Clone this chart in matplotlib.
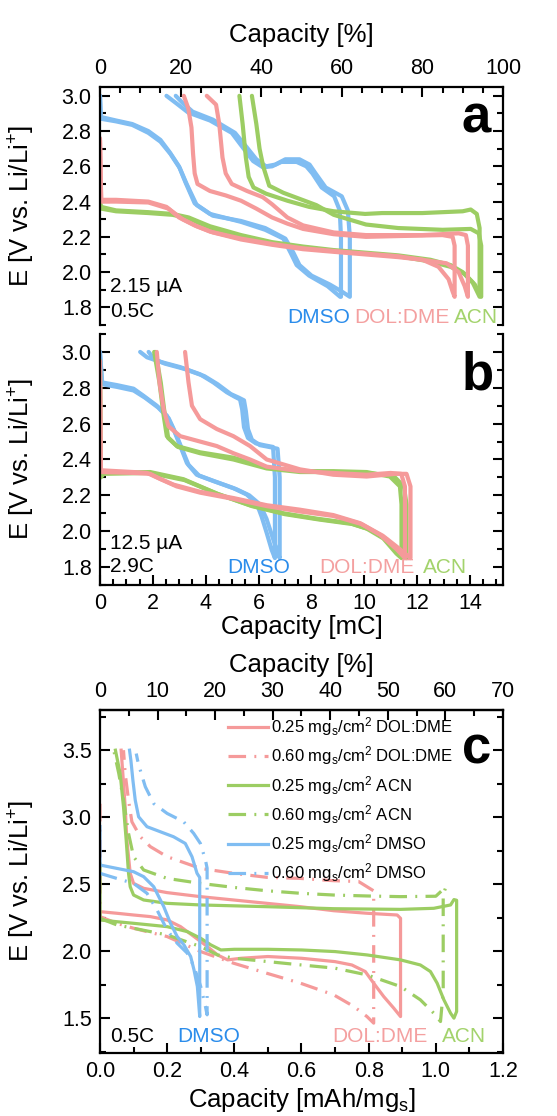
import matplotlib
matplotlib.use("Agg")
import matplotlib.pyplot as plt
from matplotlib.ticker import MultipleLocator, FixedLocator, FormatStrFormatter

plt.rcParams['font.family'] = ['Liberation Sans', 'DejaVu Sans']
plt.rcParams['mathtext.fontset'] = 'custom'
plt.rcParams['mathtext.rm'] = 'Liberation Sans'
plt.rcParams['mathtext.it'] = 'Liberation Sans:italic'

PINK = '#F59A9A'
GREEN = '#9CCD63'
BLUE = '#80BDF2'
T_PINK = '#F4A0A0'
T_GREEN = '#A3D36C'
T_BLUE = '#2A8CEB'

# ---------------- panel a (capacity in %) ----------------
A_DMSO1_Q = [0, 0.2, 4, 8, 12, 15, 17.3, 19.6, 21.2, 23.5, 27.3, 35, 41, 45.5, 47.3, 48.8, 51.9, 56.5, 59.6,
             59.8, 59.8, 59.5, 58.1, 55, 52.7, 51.2, 48.8, 45, 42.7, 40.4, 38, 35, 32.7, 27.3, 21.9, 18.8, 16.5]
A_DMSO1_E = [3.0, 2.88, 2.86, 2.84, 2.80, 2.75, 2.68, 2.60, 2.51, 2.39, 2.33, 2.285, 2.24, 2.19, 2.11, 2.04, 1.98, 1.92, 1.86,
             1.86, 2.20, 2.35, 2.43, 2.48, 2.56, 2.60, 2.625, 2.625, 2.60, 2.595, 2.63, 2.72, 2.79, 2.86, 2.905, 2.96, 3.0]
A_DMSO2_Q = [0, 0.2, 4, 8, 12, 15, 17.5, 19.8, 21.5, 24, 28, 35, 41, 46, 48, 49.5, 52.5, 57, 60, 62,
             62, 62, 61.5, 60, 56, 53.5, 52, 49.5, 46, 43.5, 41.2, 38.8, 36, 33.5, 28, 23, 20.5, 18.8]
A_DMSO2_E = [3.0, 2.87, 2.855, 2.835, 2.79, 2.74, 2.67, 2.59, 2.50, 2.38, 2.32, 2.29, 2.25, 2.19, 2.11, 2.04, 1.98, 1.93, 1.89, 1.86,
             1.86, 2.20, 2.35, 2.43, 2.48, 2.56, 2.61, 2.64, 2.64, 2.61, 2.60, 2.64, 2.72, 2.79, 2.865, 2.91, 2.96, 3.0]

A_DOL1_Q = [0, 0.3, 4, 12, 16.5, 19.6, 23.5, 27.3, 35, 42.7, 50.4, 58, 66, 74, 80, 84, 86.5, 87.5, 88,
            88, 88, 87.5, 85, 75, 66, 58, 50.4, 46.5, 42.7, 38.8, 35, 31.2, 27.3, 24.2, 23.5, 23.1, 22.7, 21.9, 20.8]
A_DOL1_E = [2.76, 2.41, 2.41, 2.40, 2.37, 2.31, 2.265, 2.23, 2.19, 2.16, 2.135, 2.12, 2.105, 2.09, 2.07, 2.03, 1.96, 1.89, 1.86,
            1.86, 2.15, 2.20, 2.21, 2.205, 2.20, 2.215, 2.245, 2.275, 2.31, 2.36, 2.405, 2.435, 2.46, 2.50, 2.56, 2.67, 2.82, 2.93, 3.0]
A_DOL2_Q = [0, 0.3, 4, 12, 17, 20.5, 24, 28, 35, 42.7, 50.4, 58, 66, 74, 80, 86, 89, 90.5, 91.3,
            91.3, 91.3, 90.8, 89, 80, 66, 58, 50.4, 46.5, 42.7, 40.4, 36.5, 32.7, 31.2, 30.4, 29.6, 28.8, 26.5]
A_DOL2_E = [2.75, 2.40, 2.40, 2.395, 2.36, 2.30, 2.26, 2.225, 2.185, 2.155, 2.13, 2.115, 2.10, 2.085, 2.07, 2.05, 2.00, 1.92, 1.86,
            1.86, 2.15, 2.21, 2.22, 2.21, 2.21, 2.225, 2.265, 2.31, 2.385, 2.425, 2.46, 2.50, 2.56, 2.65, 2.84, 2.95, 3.0]

A_ACN1_Q = [0, 0.3, 4, 12, 18, 22, 27.3, 35, 42.7, 50.4, 58, 66, 74, 82, 87, 90, 92.5, 94.2,
            94.2, 94.2, 93.5, 92, 90, 80, 70, 65.8, 58, 51.9, 46.5, 41.2, 38.1, 36.9, 36.2, 35.4, 34.6]
A_ACN1_E = [2.40, 2.37, 2.35, 2.34, 2.33, 2.31, 2.26, 2.21, 2.17, 2.145, 2.125, 2.11, 2.095, 2.07, 2.04, 2.00, 1.94, 1.86,
            1.86, 2.25, 2.33, 2.355, 2.345, 2.335, 2.335, 2.33, 2.345, 2.37, 2.405, 2.445, 2.48, 2.54, 2.65, 2.84, 3.0]
A_ACN2_Q = [0, 0.3, 4, 12, 18, 22, 27.3, 35, 42.7, 50.4, 58, 66, 74, 82, 87, 90.5, 93, 94.6,
            94.6, 94.6, 94, 92, 85, 74, 66, 58, 53.7, 45.5, 42, 40.5, 39.6, 38.8, 37.7]
A_ACN2_E = [2.38, 2.36, 2.345, 2.335, 2.325, 2.305, 2.25, 2.205, 2.165, 2.14, 2.12, 2.105, 2.09, 2.06, 2.03, 1.99, 1.93, 1.86,
            1.86, 2.15, 2.22, 2.245, 2.24, 2.25, 2.27, 2.325, 2.38, 2.45, 2.49, 2.60, 2.70, 2.84, 3.0]

# ---------------- panel b (capacity in mC) ----------------
B_DMSO1_Q = [0, 0.08, 0.64, 1.27, 1.65, 2.15, 2.53, 2.78, 3.04, 3.29, 3.66, 4.29, 5.05, 5.55, 5.93, 6.12, 6.31, 6.5, 6.62,
             6.62, 6.62, 6.55, 6.2, 5.9, 5.6, 5.45, 5.38, 5.3, 5.1, 4.8, 4.29, 3.79, 3.04, 2.28, 1.78, 1.52]
B_DMSO1_E = [3.0, 2.83, 2.815, 2.795, 2.755, 2.70, 2.645, 2.57, 2.475, 2.38, 2.315, 2.28, 2.24, 2.205, 2.155, 2.08, 1.99, 1.895, 1.85,
             1.85, 2.30, 2.47, 2.48, 2.49, 2.52, 2.58, 2.68, 2.735, 2.75, 2.775, 2.83, 2.875, 2.915, 2.945, 2.97, 3.0]
B_DMSO2_Q = [0, 0.08, 0.64, 1.27, 1.7, 2.2, 2.6, 2.85, 3.1, 3.35, 3.75, 4.4, 5.15, 5.65, 6.05, 6.3, 6.5, 6.7, 6.8,
             6.8, 6.8, 6.72, 6.4, 6.05, 5.75, 5.6, 5.52, 5.45, 5.25, 4.95, 4.45, 3.95, 3.2, 2.45, 2.05, 1.84]
B_DMSO2_E = [3.0, 2.82, 2.805, 2.785, 2.745, 2.69, 2.63, 2.55, 2.46, 2.37, 2.31, 2.275, 2.235, 2.20, 2.15, 2.07, 1.98, 1.89, 1.85,
             1.85, 2.30, 2.46, 2.47, 2.48, 2.51, 2.57, 2.67, 2.73, 2.745, 2.765, 2.82, 2.865, 2.905, 2.935, 2.96, 3.0]

B_DOL1_Q = [0, 0.03, 1.27, 1.78, 2.15, 2.78, 3.79, 5.05, 6.31, 7.57, 8.83, 9.84, 10.6, 11.22, 11.54,
            11.54, 11.54, 11.4, 11.0, 10.09, 8.83, 7.57, 6.31, 5.68, 5.05, 4.42, 3.79, 3.04, 2.59, 2.41, 2.25, 2.15]
B_DOL1_E = [2.95, 2.34, 2.33, 2.325, 2.30, 2.26, 2.22, 2.185, 2.145, 2.12, 2.09, 2.045, 1.98, 1.90, 1.85,
            1.85, 2.25, 2.32, 2.325, 2.315, 2.325, 2.335, 2.36, 2.40, 2.435, 2.475, 2.50, 2.53, 2.585, 2.68, 2.83, 3.0]
B_DOL2_Q = [0, 0.03, 1.27, 1.9, 2.3, 2.9, 3.79, 5.05, 6.31, 7.57, 8.83, 9.9, 10.7, 11.35, 11.75,
            11.75, 11.75, 11.6, 11.2, 10.09, 8.83, 7.57, 6.31, 5.68, 5.05, 4.42, 3.79, 3.48, 3.35, 3.22]
B_DOL2_E = [2.90, 2.33, 2.325, 2.32, 2.29, 2.25, 2.215, 2.18, 2.14, 2.11, 2.085, 2.04, 1.975, 1.90, 1.85,
            1.85, 2.25, 2.32, 2.32, 2.305, 2.315, 2.345, 2.40, 2.475, 2.53, 2.57, 2.625, 2.70, 2.83, 3.0]

B_ACN1_Q = [0, 0.03, 0.14, 1.9, 3.16, 4.42, 5.68, 6.94, 8.2, 9.46, 10.09, 10.72, 11.22, 11.41,
            11.41, 11.41, 11.35, 10.97, 10.09, 8.83, 7.57, 6.31, 5.05, 3.79, 2.91, 2.53, 2.41, 2.25, 2.05]
B_ACN1_E = [2.95, 2.31, 2.325, 2.33, 2.29, 2.21, 2.145, 2.10, 2.07, 2.045, 2.015, 1.96, 1.875, 1.85,
            1.85, 2.15, 2.25, 2.305, 2.33, 2.335, 2.335, 2.355, 2.41, 2.44, 2.475, 2.53, 2.645, 2.83, 3.0]
B_ACN2_Q = [0, 0.03, 0.14, 1.9, 3.2, 4.5, 5.75, 7.0, 8.3, 9.55, 10.2, 10.85, 11.4, 11.6,
            11.6, 11.6, 11.5, 11.1, 10.09, 8.83, 7.57, 6.31, 5.05, 3.79, 2.95, 2.58, 2.46, 2.3, 2.1]
B_ACN2_E = [2.90, 2.30, 2.32, 2.325, 2.285, 2.205, 2.14, 2.095, 2.065, 2.04, 2.01, 1.955, 1.87, 1.85,
            1.85, 2.15, 2.25, 2.31, 2.325, 2.33, 2.33, 2.35, 2.40, 2.435, 2.47, 2.52, 2.64, 2.83, 3.0]

# ---------------- panel c (capacity in mAh/mg_S) ----------------
C_DOL25_Q = [0, 0.05, 0.10, 0.15, 0.20, 0.24, 0.28, 0.32, 0.35, 0.38, 0.42, 0.50, 0.60, 0.70, 0.75, 0.79, 0.815, 0.845, 0.875, 0.895,
             0.895, 0.895, 0.885, 0.795, 0.696, 0.597, 0.497, 0.398, 0.299, 0.20, 0.13, 0.10, 0.09, 0.08, 0.075, 0.068, 0.063]
C_DOL25_E = [2.295, 2.283, 2.27, 2.258, 2.233, 2.183, 2.109, 2.034, 1.972, 1.935, 1.947, 1.96, 1.947, 1.922, 1.897, 1.848, 1.761, 1.661, 1.574, 1.512,
             1.512, 2.245, 2.27, 2.283, 2.302, 2.332, 2.357, 2.382, 2.407, 2.437, 2.469, 2.506, 2.581, 2.83, 3.078, 3.326, 3.5]
C_DOL60_Q = [0, 0, 0.05, 0.10, 0.20, 0.30, 0.398, 0.497, 0.597, 0.696, 0.756, 0.795, 0.815,
             0.815, 0.815, 0.77, 0.696, 0.597, 0.497, 0.398, 0.299, 0.20, 0.15, 0.12, 0.095, 0.085, 0.075, 0.07]
C_DOL60_E = [3.10, 2.258, 2.208, 2.171, 2.109, 1.997, 1.91, 1.835, 1.761, 1.674, 1.587, 1.512, 1.463,
             1.463, 2.45, 2.52, 2.526, 2.543, 2.551, 2.581, 2.618, 2.705, 2.78, 2.854, 2.966, 3.127, 3.326, 3.5]
C_ACN25_Q = [0, 0, 0.05, 0.10, 0.20, 0.26, 0.30, 0.33, 0.36, 0.40, 0.50, 0.60, 0.70, 0.795, 0.895, 0.954, 0.984, 1.004, 1.024, 1.044, 1.054, 1.062,
             1.062, 1.054, 1.044, 0.994, 0.895, 0.696, 0.497, 0.299, 0.20, 0.13, 0.10, 0.09, 0.085, 0.078, 0.07, 0.06, 0.046]
C_ACN25_E = [2.65, 2.233, 2.22, 2.208, 2.183, 2.146, 2.096, 2.047, 2.009, 2.014, 2.014, 2.009, 1.997, 1.972, 1.935, 1.897, 1.848, 1.761, 1.637, 1.537, 1.50, 1.55,
             2.38, 2.385, 2.345, 2.32, 2.312, 2.317, 2.332, 2.345, 2.357, 2.382, 2.419, 2.481, 2.581, 2.83, 3.078, 3.326, 3.5]
C_ACN60_Q = [0, 0.05, 0.10, 0.20, 0.30, 0.35, 0.40, 0.50, 0.60, 0.70, 0.795, 0.895, 0.954, 0.994, 1.014,
             1.022, 1.022, 1.03, 1.00, 0.895, 0.795, 0.696, 0.597, 0.497, 0.398, 0.299, 0.20, 0.13, 0.10, 0.085, 0.07, 0.056, 0.041]
C_ACN60_E = [2.245, 2.196, 2.171, 2.121, 2.034, 1.972, 1.947, 1.922, 1.897, 1.873, 1.823, 1.736, 1.637, 1.537, 1.475,
             1.70, 2.42, 2.48, 2.41, 2.407, 2.412, 2.419, 2.432, 2.451, 2.476, 2.506, 2.543, 2.606, 2.705, 2.879, 3.127, 3.326, 3.5]
C_DMSO25_Q = [0, 0, 0.05, 0.10, 0.13, 0.16, 0.19, 0.21, 0.23, 0.25, 0.27, 0.28, 0.29, 0.297,
              0.297, 0.297, 0.289, 0.274, 0.254, 0.219, 0.18, 0.14, 0.115, 0.105, 0.098, 0.092, 0.088]
C_DMSO25_E = [2.93, 2.643, 2.618, 2.593, 2.556, 2.481, 2.332, 2.208, 2.109, 2.047, 1.96, 1.86, 1.736, 1.512,
              1.512, 2.55, 2.581, 2.705, 2.804, 2.854, 2.891, 2.929, 3.003, 3.127, 3.276, 3.425, 3.5]
C_DMSO60_Q = [0, 0.05, 0.10, 0.14, 0.17, 0.20, 0.23, 0.26, 0.28, 0.30, 0.314, 0.319,
              0.319, 0.319, 0.314, 0.299, 0.279, 0.249, 0.20, 0.16, 0.135, 0.12, 0.112, 0.108]
C_DMSO60_E = [2.581, 2.543, 2.506, 2.432, 2.307, 2.158, 2.059, 1.985, 1.885, 1.736, 1.587, 1.525,
              1.525, 2.62, 2.68, 2.804, 2.879, 2.966, 3.028, 3.102, 3.227, 3.351, 3.425, 3.475]

PCT_TICKS_C = [0, 10, 20, 30, 40, 50, 60, 70]

LEGEND_LABELS = [r'0.25 mg$_\mathregular{s}$/cm$^\mathregular{2}$ DOL:DME',
                 r'0.60 mg$_\mathregular{s}$/cm$^\mathregular{2}$ DOL:DME',
                 r'0.25 mg$_\mathregular{s}$/cm$^\mathregular{2}$ ACN',
                 r'0.60 mg$_\mathregular{s}$/cm$^\mathregular{2}$ ACN',
                 r'0.25 mg$_\mathregular{s}$/cm$^\mathregular{2}$ DMSO',
                 r'0.60 mg$_\mathregular{s}$/cm$^\mathregular{2}$ DMSO']

YLABEL = r'E [V vs. Li/Li$^\mathregular{+}$]'
TICK_FS = 15.5
LABEL_FS = 18.5
ANN_FS = 15
PANEL_FS = 38

fig = plt.figure(figsize=(5.57, 11.16), dpi=100)
axa = fig.add_axes([0.1795, 0.70878, 0.7235, 0.21326])
axb = fig.add_axes([0.1795, 0.47581, 0.7235, 0.22491])
axc = fig.add_axes([0.1795, 0.05645, 0.7235, 0.30735])


def style(ax):
    for s in ax.spines.values():
        s.set_linewidth(1.6)
    ax.tick_params(which='both', direction='in', width=1.5, labelsize=TICK_FS, pad=6)
    ax.tick_params(which='major', length=7)
    ax.tick_params(which='minor', length=4)


LW = 3.0
# panel a
for q, e in [(A_DMSO1_Q, A_DMSO1_E), (A_DMSO2_Q, A_DMSO2_E)]:
    axa.plot(q, e, color=BLUE, lw=LW, solid_joinstyle='round', solid_capstyle='round')
for q, e in [(A_ACN1_Q, A_ACN1_E), (A_ACN2_Q, A_ACN2_E)]:
    axa.plot(q, e, color=GREEN, lw=LW, solid_joinstyle='round', solid_capstyle='round')
for q, e in [(A_DOL1_Q, A_DOL1_E), (A_DOL2_Q, A_DOL2_E)]:
    axa.plot(q, e, color=PINK, lw=LW, solid_joinstyle='round', solid_capstyle='round')
axa.set_xlim(0, 100)
axa.set_ylim(1.7, 3.05)
style(axa)
axa.spines['bottom'].set_visible(False)
axa.tick_params(axis='x', which='both', bottom=False, labelbottom=False, top=True, labeltop=True)
axa.tick_params(axis='y', which='both', left=True, right=True)
axa.xaxis.set_major_locator(MultipleLocator(20))
axa.xaxis.set_minor_locator(MultipleLocator(5))
axa.yaxis.set_major_locator(MultipleLocator(0.2))
axa.yaxis.set_minor_locator(MultipleLocator(0.1))
axa.yaxis.set_major_formatter(FormatStrFormatter('%.1f'))
axa.xaxis.set_label_position('top')
axa.set_xlabel('Capacity [%]', fontsize=LABEL_FS)
axa.xaxis.set_label_coords(0.5, 1.19)
axa.set_ylabel(YLABEL, fontsize=LABEL_FS)
axa.yaxis.set_label_coords(-0.157, 0.5)
axa.text(0.025, 0.16, '2.15 µA', transform=axa.transAxes, fontsize=ANN_FS, va='center', ha='left')
axa.text(0.025, 0.055, '0.5C', transform=axa.transAxes, fontsize=ANN_FS, va='center', ha='left')
axa.text(0.543, 0.03, 'DMSO', transform=axa.transAxes, fontsize=ANN_FS, va='center', ha='center', color=T_BLUE)
axa.text(0.749, 0.03, 'DOL:DME', transform=axa.transAxes, fontsize=ANN_FS, va='center', ha='center', color=T_PINK)
axa.text(0.933, 0.03, 'ACN', transform=axa.transAxes, fontsize=ANN_FS, va='center', ha='center', color=T_GREEN)
axa.text(0.934, 0.807, 'a', transform=axa.transAxes, fontsize=PANEL_FS, fontweight='bold', va='baseline', ha='center')

# panel b
for q, e in [(B_DMSO1_Q, B_DMSO1_E), (B_DMSO2_Q, B_DMSO2_E)]:
    axb.plot(q, e, color=BLUE, lw=LW, solid_joinstyle='round', solid_capstyle='round')
for q, e in [(B_ACN1_Q, B_ACN1_E), (B_ACN2_Q, B_ACN2_E)]:
    axb.plot(q, e, color=GREEN, lw=LW, solid_joinstyle='round', solid_capstyle='round')
for q, e in [(B_DOL1_Q, B_DOL1_E), (B_DOL2_Q, B_DOL2_E)]:
    axb.plot(q, e, color=PINK, lw=LW, solid_joinstyle='round', solid_capstyle='round')
axb.set_xlim(0, 15.25)
axb.set_ylim(1.7, 3.1)
style(axb)
axb.spines['top'].set_visible(False)
axb.tick_params(axis='x', which='both', top=False, bottom=True)
axb.tick_params(axis='y', which='both', left=True, right=True)
axb.xaxis.set_major_locator(MultipleLocator(2))
axb.xaxis.set_minor_locator(MultipleLocator(0.5))
axb.yaxis.set_major_locator(MultipleLocator(0.2))
axb.yaxis.set_minor_locator(MultipleLocator(0.1))
axb.yaxis.set_major_formatter(FormatStrFormatter('%.1f'))
axb.set_xlabel('Capacity [mC]', fontsize=LABEL_FS)
axb.xaxis.set_label_coords(0.5, -0.12)
axb.set_ylabel(YLABEL, fontsize=LABEL_FS)
axb.yaxis.set_label_coords(-0.157, 0.5)
axb.text(0.025, 0.167, '12.5 µA', transform=axb.transAxes, fontsize=ANN_FS, va='center', ha='left')
axb.text(0.025, 0.072, '2.9C', transform=axb.transAxes, fontsize=ANN_FS, va='center', ha='left')
axb.text(0.393, 0.068, 'DMSO', transform=axb.transAxes, fontsize=ANN_FS, va='center', ha='center', color=T_BLUE)
axb.text(0.663, 0.068, 'DOL:DME', transform=axb.transAxes, fontsize=ANN_FS, va='center', ha='center', color=T_PINK)
axb.text(0.856, 0.068, 'ACN', transform=axb.transAxes, fontsize=ANN_FS, va='center', ha='center', color=T_GREEN)
axb.text(0.938, 0.777, 'b', transform=axb.transAxes, fontsize=PANEL_FS, fontweight='bold', va='baseline', ha='center')

# panel c
LWC = 2.3
DD = (0, (5.5, 2.6, 0.6, 2.6))
hs = []
hs += axc.plot(C_DOL25_Q, C_DOL25_E, color=PINK, lw=LWC, solid_joinstyle='round')
hs += axc.plot(C_DOL60_Q, C_DOL60_E, color=PINK, lw=LWC, ls=DD)
hs += axc.plot(C_ACN25_Q, C_ACN25_E, color=GREEN, lw=LWC, solid_joinstyle='round')
hs += axc.plot(C_ACN60_Q, C_ACN60_E, color=GREEN, lw=LWC, ls=DD)
hs += axc.plot(C_DMSO25_Q, C_DMSO25_E, color=BLUE, lw=LWC, solid_joinstyle='round')
hs += axc.plot(C_DMSO60_Q, C_DMSO60_E, color=BLUE, lw=LWC, ls=DD)
axc.set_xlim(0, 1.2)
axc.set_ylim(1.24, 3.8)
style(axc)
axc.tick_params(axis='x', which='both', top=False, bottom=True)
axc.tick_params(axis='y', which='both', left=True, right=True)
axc.xaxis.set_major_locator(MultipleLocator(0.2))
axc.xaxis.set_minor_locator(MultipleLocator(0.1))
axc.xaxis.set_major_formatter(FormatStrFormatter('%.1f'))
axc.yaxis.set_major_locator(MultipleLocator(0.5))
axc.yaxis.set_minor_locator(MultipleLocator(0.25))
axc.yaxis.set_major_formatter(FormatStrFormatter('%.1f'))
axc.set_xlabel(r'Capacity [mAh/mg$_\mathregular{s}$]', fontsize=LABEL_FS)
axc.xaxis.set_label_coords(0.5, -0.096)
axc.set_ylabel(YLABEL, fontsize=LABEL_FS)
axc.yaxis.set_label_coords(-0.157, 0.5)
sec = axc.secondary_xaxis('top', functions=(lambda x: x * 70 / 1.2, lambda p: p * 1.2 / 70))
sec.tick_params(which='both', direction='in', width=1.5, labelsize=TICK_FS, pad=6)
sec.tick_params(which='major', length=7)
sec.tick_params(which='minor', length=4)
sec.xaxis.set_major_locator(FixedLocator(PCT_TICKS_C))
sec.xaxis.set_minor_locator(FixedLocator([5, 15, 25, 35, 45, 55, 65]))
sec.spines['top'].set_linewidth(1.6)
sec.set_xlabel('Capacity [%]', fontsize=LABEL_FS, labelpad=6)
leg = axc.legend(hs, LEGEND_LABELS, loc='upper left', bbox_to_anchor=(0.318, 0.985), frameon=False,
                 fontsize=12, handlelength=2.4, handletextpad=0.2, labelspacing=0.38, borderpad=0, borderaxespad=0)
axc.text(0.025, 0.047, '0.5C', transform=axc.transAxes, fontsize=ANN_FS, va='center', ha='left')
axc.text(0.27, 0.047, 'DMSO', transform=axc.transAxes, fontsize=ANN_FS, va='center', ha='center', color=T_BLUE)
axc.text(0.695, 0.047, 'DOL:DME', transform=axc.transAxes, fontsize=ANN_FS, va='center', ha='center', color=T_PINK)
axc.text(0.903, 0.047, 'ACN', transform=axc.transAxes, fontsize=ANN_FS, va='center', ha='center', color=T_GREEN)
axc.text(0.935, 0.845, 'c', transform=axc.transAxes, fontsize=PANEL_FS, fontweight='bold', va='baseline', ha='center')

fig.savefig('out.png', dpi=100)
